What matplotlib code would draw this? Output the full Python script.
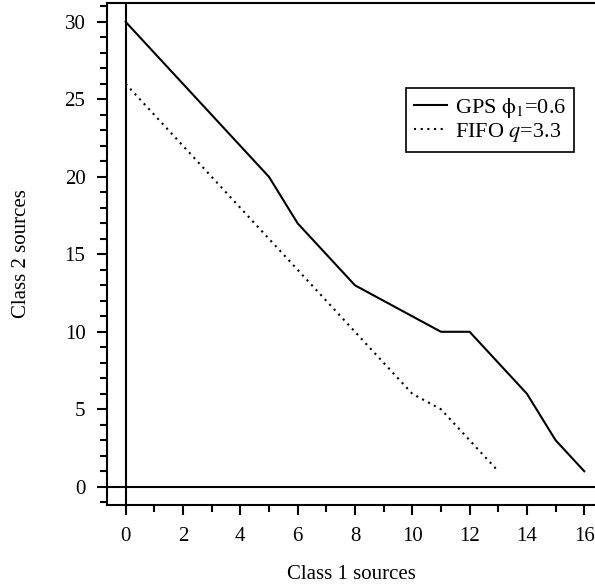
import matplotlib
matplotlib.use("Agg")
import matplotlib.pyplot as plt
from matplotlib.ticker import MultipleLocator

plt.rcParams['font.family'] = ['Liberation Serif', 'DejaVu Serif']
plt.rcParams['mathtext.fontset'] = 'stix'

# admissible region boundaries
gps_class1 = [0, 5, 6, 8, 11, 12, 14, 15, 16]
gps_class2 = [30, 20, 17, 13, 10, 10, 6, 3, 1]
fifo_class1 = [0, 10, 11, 13]
fifo_class2 = [26, 6, 5, 1]

fs = 15

fig = plt.figure(figsize=(5.95, 5.86), dpi=100)
ax = fig.add_axes([0.1798, 0.1382, 0.8202, 0.8567])

ax.plot(gps_class1, gps_class2, color='black', lw=1.5, label=r'GPS $\mathrm{\phi}_1$=0.6')
ax.plot(fifo_class1, fifo_class2, color='black', lw=1.5, linestyle=(0, (1, 2.2)),
        label=r'FIFO $q$=3.3')

ax.axvline(0, color='black', lw=1.5)
ax.axhline(0, color='black', lw=1.5)

ax.set_xlim(-0.652, 16.375)
ax.set_ylim(-1.18, 31.22)

ax.xaxis.set_major_locator(MultipleLocator(2))
ax.xaxis.set_minor_locator(MultipleLocator(1))
ax.yaxis.set_major_locator(MultipleLocator(5))
ax.yaxis.set_minor_locator(MultipleLocator(1))
ax.tick_params(which='major', length=7.5, width=1.5, labelsize=fs, pad=8)
ax.tick_params(which='minor', length=5, width=1.5)

for s in ['left', 'bottom', 'top']:
    ax.spines[s].set_linewidth(1.5)
ax.spines['right'].set_visible(False)

ax.set_xlabel('Class 1 sources', fontsize=fs, labelpad=14)
ax.set_ylabel('Class 2 sources', fontsize=fs, labelpad=24)

leg = ax.legend(loc='upper right', bbox_to_anchor=(0.957, 0.8307), fontsize=16,
                fancybox=False, framealpha=1, edgecolor='black',
                handlelength=1.5, handletextpad=0.35, borderpad=0.35,
                labelspacing=0.05, borderaxespad=0)
leg.get_frame().set_linewidth(1.2)

fig.savefig('out.png', dpi=100)
